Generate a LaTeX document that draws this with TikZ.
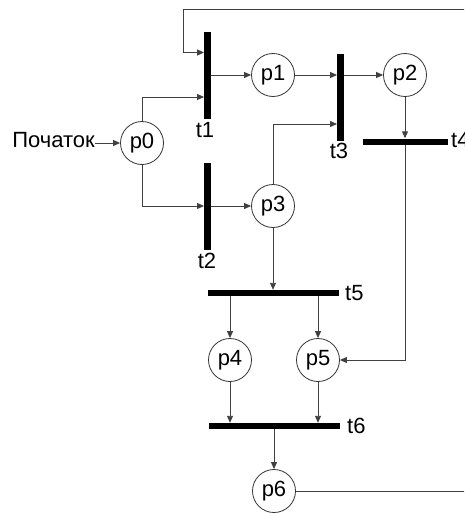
\documentclass[tikz,border=0pt]{standalone}
\usepackage{fontspec}
\setmainfont{Liberation Sans}
\usetikzlibrary{arrows.meta}

\begin{document}
\begin{tikzpicture}[x=1pt,y=-1pt,
  place/.style={draw=black!80,line width=0.8pt,circle,minimum size=43pt,inner sep=0pt,font=\fontsize{22}{26}\selectfont},
  vbar/.style={fill=black,minimum width=6.5pt,minimum height=87pt,inner sep=0pt},
  hbar/.style={fill=black,minimum height=6pt,inner sep=0pt},
  lbl/.style={inner sep=0pt,font=\fontsize{22}{26}\selectfont},
  arc/.style={draw=black!75,line width=0.9pt,-{Triangle[length=7pt,width=6pt]}}]
  \useasboundingbox (0,0) rectangle (464,514);
  \clip (0,0) rectangle (464,514);
  % places
  \node[place] (p0) at (142,143) {p0};
  \node[place] (p1) at (273,75) {p1};
  \node[place] (p2) at (405,75) {p2};
  \node[place] (p3) at (273,206) {p3};
  \node[place] (p4) at (230,360) {p4};
  \node[place] (p5) at (318,360) {p5};
  \node[place] (p6) at (274,491) {p6};
  % transitions
  \node[vbar] (t1) at (207.5,75) {};
  \node[vbar] (t2) at (207.5,206) {};
  \node[vbar] (t3) at (340.5,97) {};
  \node[hbar,minimum width=85pt] (t4) at (405,141.5) {};
  \node[hbar,minimum width=131pt] (t5) at (273.5,293) {};
  \node[hbar,minimum width=131pt] (t6) at (274,426) {};
  \node[lbl] (t1l) at (205,130) {t1};
  \node[lbl] (t2l) at (207,261) {t2};
  \node[lbl] (t3l) at (339,151) {t3};
  \node[lbl,anchor=west] (t4l) at (451,140.5) {t4};
  \node[lbl,anchor=west] (t5l) at (345,293.5) {t5};
  \node[lbl,anchor=west] (t6l) at (347,426) {t6};
  \node[lbl,anchor=east] (start) at (95,140) {Початок};
  \coordinate (loopR) at (480,9);
  \coordinate (loopL) at (183,9);
  % arcs
  \draw[arc] (start.east |- p0) -- (p0.west);
  \draw[arc] (p0.north) |- ([yshift=-22pt]t1.west);
  \draw[arc] (p0.south) |- (t2.west);
  \draw[arc] (t1.east) -- (p1.west);
  \draw[arc] (t2.east) -- (p3.west);
  \draw[arc] (p1.east) -- (t3.west |- p1);
  \draw[arc] (p3.north) |- ([yshift=-27pt]t3.west);
  \draw[arc] (t3.east |- p2) -- (p2.west);
  \draw[arc] (p2.south) -- (t4.north);
  \draw[arc] (t4.south) |- (p5.east);
  \draw[arc] (p3.south) -- (p3 |- t5.north);
  \draw[arc] (p4 |- t5.south) -- (p4.north);
  \draw[arc] (p5 |- t5.south) -- (p5.north);
  \draw[arc] (p4.south) -- (p4 |- t6.north);
  \draw[arc] (p5.south) -- (p5 |- t6.north);
  \draw[arc] (p6 |- t6.south) -- (p6.north);
  \draw[arc] (p6.east) -| (loopR) -- (loopL) |- ([yshift=22.5pt]t1.west);
\end{tikzpicture}
\end{document}
